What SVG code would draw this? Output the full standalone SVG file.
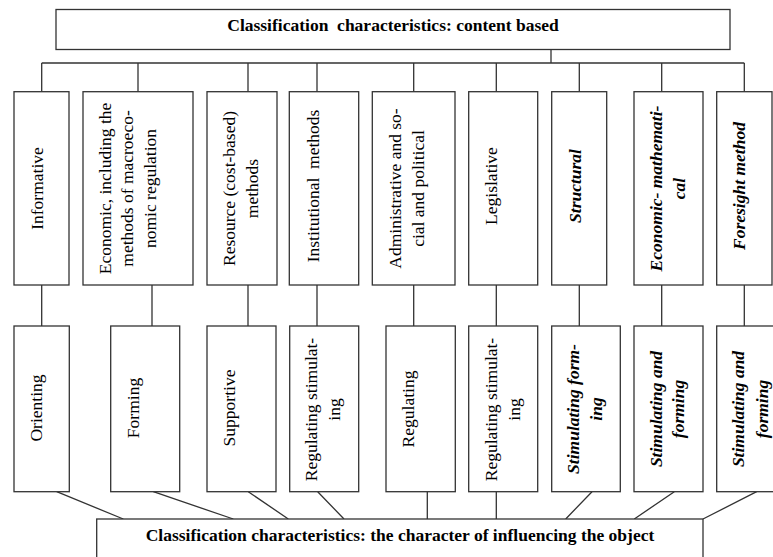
<svg xmlns="http://www.w3.org/2000/svg" width="773" height="557" viewBox="0 0 773 557">
<style>
.box{fill:#fff;stroke:#333;stroke-width:1.3}
.ln{stroke:#333;stroke-width:1.3;fill:none}
.t{font-family:"Liberation Serif","Times New Roman",serif;font-size:17.5px;fill:#000;text-anchor:middle;white-space:pre}
.b{font-weight:bold}
.bi{font-weight:bold;font-style:italic}
</style>
<rect width="773" height="557" fill="#fff"/>
<g id="connectors">
<path class="ln" d="M551,49.5V63M41.7,63H744.3"/>
<path class="ln" d="M41.7,63V91.7M138,63V91.7M248,63V91.7M317,63V91.7M413.7,63V91.7M496.3,63V91.7M579.3,63V91.7M661.7,63V91.7M744.3,63V91.7"/>
<path class="ln" d="M41.7,285V326M152,285V326M248,285V326M317,285V326M413.7,285V326M496.3,285V326M579.3,285V326M661.7,285V326M744.3,285V326"/>
<path class="ln" d="M56.7,491.7L123.3,519M153.3,491.7L233.3,519M248.3,491.7L288.3,519M317.7,491.7L344,519M427.3,491.7V519M496.3,491.7V519M592,491.7L565.7,519M674.3,491.7L634.3,519M756.7,491.7L703,519"/>
</g>
<g id="top-title">
<rect class="box" x="56" y="9.5" width="674" height="40"/>
<text class="t b" x="393" y="31" xml:space="preserve">Classification  characteristics: content based</text>
</g>
<g id="informative">
<rect class="box" x="14" y="91.7" width="55" height="193.3"/>
<text class="t" transform="translate(43.3,188.5) rotate(-90)">Informative</text>
</g>
<g id="economic">
<rect class="box" x="83" y="91.7" width="110" height="193.3"/>
<text class="t" transform="translate(110.7,188.5) rotate(-90)">Economic, including the</text>
<text class="t" transform="translate(133.3,188.5) rotate(-90)">methods of macroeco-</text>
<text class="t" transform="translate(155.7,188.5) rotate(-90)">nomic regulation</text>
</g>
<g id="resource">
<rect class="box" x="207" y="91.7" width="70" height="193.3"/>
<text class="t" transform="translate(235.2,188.5) rotate(-90)">Resource (cost-based)</text>
<text class="t" transform="translate(258.3,188.5) rotate(-90)">methods</text>
</g>
<g id="institutional">
<rect class="box" x="289.3" y="91.7" width="69.4" height="193.3"/>
<text class="t" transform="translate(318.5,186) rotate(-90)" xml:space="preserve">Institutional  methods</text>
</g>
<g id="administrative">
<rect class="box" x="372.3" y="91.7" width="82.7" height="193.3"/>
<text class="t" transform="translate(401,188.5) rotate(-90)">Administrative and so-</text>
<text class="t" transform="translate(423.5,188.5) rotate(-90)">cial and political</text>
</g>
<g id="legislative">
<rect class="box" x="468.7" y="91.7" width="69" height="193.3"/>
<text class="t" transform="translate(496.5,186) rotate(-90)">Legislative</text>
</g>
<g id="structural">
<rect class="box" x="551.7" y="91.7" width="55" height="193.3"/>
<text class="t bi" transform="translate(581,186) rotate(-90)">Structural</text>
</g>
<g id="econ-math">
<rect class="box" x="634" y="91.7" width="69" height="193.3"/>
<text class="t bi" transform="translate(662,188.5) rotate(-90)">Economic- mathemati-</text>
<text class="t bi" transform="translate(685,188.5) rotate(-90)">cal</text>
</g>
<g id="foresight">
<rect class="box" x="716.7" y="91.7" width="55.3" height="193.3"/>
<text class="t bi" transform="translate(745,186) rotate(-90)">Foresight method</text>
</g>
<g id="orienting">
<rect class="box" x="14" y="326" width="55.3" height="165.7"/>
<text class="t" transform="translate(42,408) rotate(-90)">Orienting</text>
</g>
<g id="forming">
<rect class="box" x="110.7" y="326" width="69" height="165.7"/>
<text class="t" transform="translate(138.5,408) rotate(-90)">Forming</text>
</g>
<g id="supportive">
<rect class="box" x="207" y="326" width="69" height="165.7"/>
<text class="t" transform="translate(234.5,408) rotate(-90)">Supportive</text>
</g>
<g id="regstim1">
<rect class="box" x="289.7" y="326" width="69" height="165.7"/>
<text class="t" transform="translate(316.5,409.5) rotate(-90)">Regulating stimulat-</text>
<text class="t" transform="translate(339.5,409.5) rotate(-90)">ing</text>
</g>
<g id="regulating">
<rect class="box" x="386" y="326" width="69.3" height="165.7"/>
<text class="t" transform="translate(414,409) rotate(-90)">Regulating</text>
</g>
<g id="regstim2">
<rect class="box" x="468.7" y="326" width="69" height="165.7"/>
<text class="t" transform="translate(496.5,409.5) rotate(-90)">Regulating stimulat-</text>
<text class="t" transform="translate(519.5,409.5) rotate(-90)">ing</text>
</g>
<g id="stimform">
<rect class="box" x="551.7" y="326" width="68.6" height="165.7"/>
<text class="t bi" transform="translate(579,409) rotate(-90)">Stimulating form-</text>
<text class="t bi" transform="translate(602,409) rotate(-90)">ing</text>
</g>
<g id="stimandform1">
<rect class="box" x="634" y="326" width="69" height="165.7"/>
<text class="t bi" transform="translate(661.5,409) rotate(-90)">Stimulating and</text>
<text class="t bi" transform="translate(684,409) rotate(-90)">forming</text>
</g>
<g id="stimandform2">
<rect class="box" x="716.7" y="326" width="70" height="165.7"/>
<text class="t bi" transform="translate(744,409) rotate(-90)">Stimulating and</text>
<text class="t bi" transform="translate(767.5,409) rotate(-90)">forming</text>
</g>
<g id="bottom-title">
<rect class="box" x="96.7" y="519" width="606.3" height="60"/>
<text class="t b" x="400" y="540.7">Classification characteristics: the character of influencing the object</text>
</g>
</svg>
